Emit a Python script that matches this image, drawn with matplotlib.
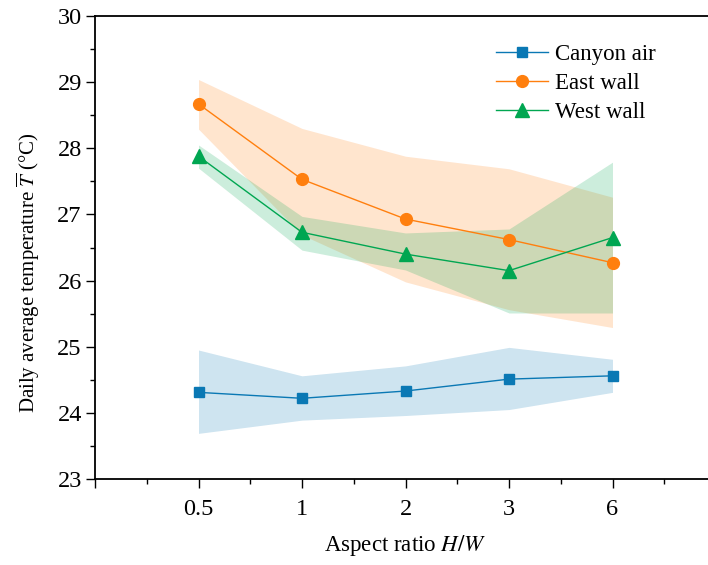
import matplotlib
matplotlib.use("Agg")
import matplotlib.pyplot as plt
import numpy as np
from matplotlib.ticker import FixedLocator

plt.rcParams['font.family'] = ['Liberation Serif', 'DejaVu Serif']
plt.rcParams['mathtext.fontset'] = 'stix'

categories = ['0.5', '1', '2', '3', '6']

canyon_mean = [24.31, 24.22, 24.33, 24.51, 24.56]
canyon_low = [23.69, 23.89, 23.96, 24.05, 24.31]
canyon_high = [24.95, 24.56, 24.71, 24.99, 24.81]

east_mean = [28.67, 27.53, 26.93, 26.62, 26.27]
east_low = [28.29, 26.69, 25.98, 25.56, 25.29]
east_high = [29.04, 28.30, 27.88, 27.69, 27.26]

west_mean = [27.88, 26.73, 26.40, 26.15, 26.65]
west_low = [27.70, 26.46, 26.16, 25.51, 25.51]
west_high = [28.05, 26.97, 26.72, 26.78, 27.79]

c_blue = '#0a78b4'
c_orange = '#ff7f0e'
c_green = '#00a651'

fig = plt.figure(figsize=(7.08, 5.65), dpi=100)
ax = fig.add_axes([95/708, 1-479/565, 621/708, 463/565])

x = np.arange(1, len(categories) + 1)

ax.fill_between(x, canyon_low, canyon_high, color=c_blue, alpha=0.2, linewidth=0)
ax.fill_between(x, east_low, east_high, color=c_orange, alpha=0.2, linewidth=0)
ax.plot(x, canyon_mean, color=c_blue, lw=1.0, marker='s', ms=7.5, label='Canyon air')
ax.plot(x, east_mean, color=c_orange, lw=1.0, marker='o', ms=8.5, label='East wall')
ax.fill_between(x, west_low, west_high, color=c_green, alpha=0.2, linewidth=0)
ax.plot(x, west_mean, color=c_green, lw=1.0, marker='^', ms=9.5, label='West wall')

ax.set_xlim(0, 6)
ax.set_ylim(23, 30)
ax.set_xticks(np.arange(0, 7))
ax.set_xticklabels([''] + categories + [''])
ax.xaxis.set_minor_locator(FixedLocator(np.arange(0.5, 6, 1.0)))
ax.set_yticks(np.arange(23, 31, 1))
ax.yaxis.set_minor_locator(FixedLocator(np.arange(23.5, 30, 1.0)))

ax.tick_params(which='major', direction='out', length=6.5, width=1.0, labelsize=17.5)
ax.tick_params(axis='x', which='major', pad=8)
ax.tick_params(axis='y', which='major', pad=3)
ax.tick_params(which='minor', direction='out', length=3.5, width=1.0)
ax.tick_params(top=False, right=False)
for s in ax.spines.values():
    s.set_linewidth(1.3)

ax.set_xlabel('Aspect ratio $\\mathit{H/W}$', fontsize=16.5, labelpad=9)
ax.set_ylabel('Daily average temperature $\\overline{T}$ (\u00b0C)', fontsize=15)
ax.yaxis.set_label_coords(-0.085, 0.445)

leg = ax.legend(loc='upper left', bbox_to_anchor=(475/708, 1-23/565), bbox_transform=fig.transFigure,
                frameon=False, fontsize=16.5, handlelength=2.3, handletextpad=0.3, labelspacing=0.35,
                borderpad=0.4)

fig.savefig('out.png', dpi=100)
